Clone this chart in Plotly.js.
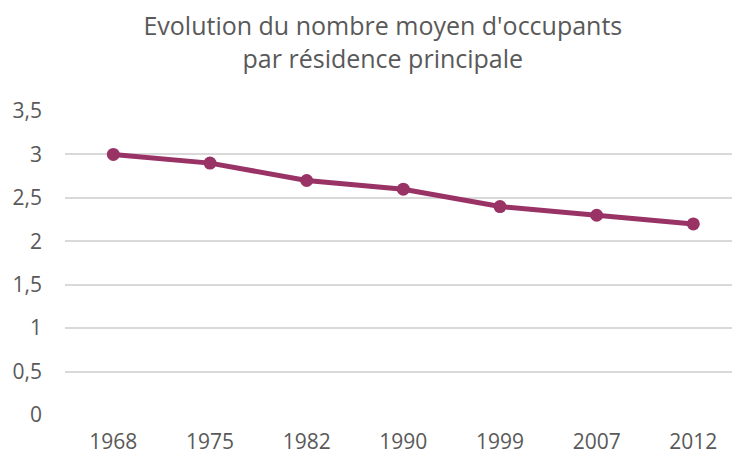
<!DOCTYPE html>
<html><head><meta charset="utf-8">
<script src="https://cdn.plot.ly/plotly-3.0.1.min.js"></script>
<style>html,body{margin:0;padding:0;background:#fff}</style>
</head><body><div id="chart" style="width:732px;height:455px"></div>
<script>
const years = ["1968","1975","1982","1990","1999","2007","2012"];
const occupants = [3.0, 2.9, 2.7, 2.6, 2.4, 2.3, 2.2];
const yTicks = [0, 0.5, 1, 1.5, 2, 2.5, 3, 3.5];

Plotly.newPlot("chart", [{
  x: years, y: occupants, type: "scatter", mode: "lines+markers",
  line: {color: "#993366", width: 5},
  marker: {color: "#993366", size: 13},
  hoverinfo: "skip"
}], {
  width: 732, height: 455,
  margin: {l: 65, r: 0, t: 111, b: 40},
  separators: ", ",
  paper_bgcolor: "#fff", plot_bgcolor: "#fff",
  font: {family: "Open Sans, sans-serif", color: "#595959"},
  title: {text: "Evolution du nombre moyen d'occupants<br>par résidence principale",
          font: {size: 25, color: "#595959"}, x: 0.523, xanchor: "center", y: 0.923, yanchor: "middle"},
  xaxis: {type: "category", range: [-0.5, 6.4], showgrid: false, zeroline: false, showline: false,
          ticks: "", ticklabelstandoff: 12, tickfont: {size: 21, color: "#595959"}, fixedrange: true},
  yaxis: {range: [0, 3.5], tickvals: yTicks, showgrid: true, gridcolor: "#d9d9d9", gridwidth: 2,
          zeroline: false, showline: false, ticks: "", ticklabelstandoff: 22,
          tickfont: {size: 21, color: "#595959"}, fixedrange: true},
  showlegend: false
}, {displayModeBar: false, staticPlot: true});
</script></body></html>
